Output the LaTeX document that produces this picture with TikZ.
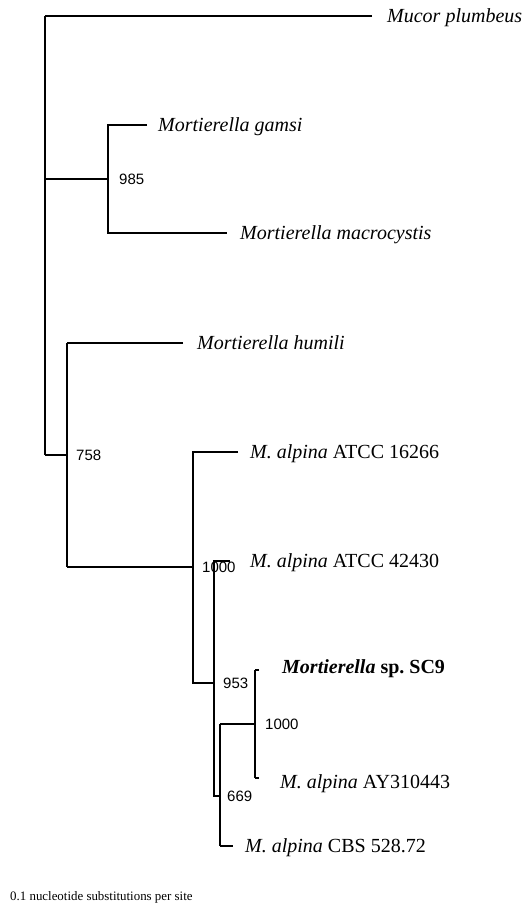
\documentclass[tikz,border=0pt]{standalone}
\usepackage{fontspec}
\setmainfont{Liberation Serif}
\newfontfamily\numfont{Liberation Sans}
\frenchspacing
\begin{document}
\begin{tikzpicture}[x=1pt,y=-1pt,
  br/.style={line width=1.1pt},
  tbr/.style={line width=1.8pt},
  mbr/.style={line width=1.4pt},
  lab/.style={anchor=base west, inner sep=0pt, font=\fontsize{20}{24}\selectfont},
  bs/.style={anchor=west, inner sep=0pt, font=\numfont\fontsize{15}{18}\selectfont}]
\useasboundingbox (0,0) rectangle (528,907);
% internal nodes (join points)
\coordinate (R) at (45,179);
\coordinate (n985) at (108,179);
\coordinate (n758) at (67,455);
\coordinate (n1000a) at (193,567);
\coordinate (n953) at (214,683);
\coordinate (n669) at (220,796);
\coordinate (n1000b) at (255,724);
% leaf tips
\coordinate (mucorT) at (372,16);
\coordinate (gamsiT) at (147,125);
\coordinate (macroT) at (227,233);
\coordinate (humiliT) at (183,343);
\coordinate (a16266T) at (238,452);
\coordinate (a42430T) at (230,561);
\coordinate (sc9T) at (259,670);
\coordinate (ayT) at (259,778);
\coordinate (cbsT) at (233,846);
% leaf labels
\node[lab] (mucor) at (387,22.5) {\textit{Mucor plumbeus}};
\node[lab] (gamsi) at (158,131.5) {\textit{Mortierella gamsi}};
\node[lab] (macro) at (240,239.5) {\textit{Mortierella macrocystis}};
\node[lab] (humili) at (197,349.5) {\textit{Mortierella humili}};
\node[lab] (a16266) at (250,458.5) {\textit{M. alpina} ATCC 16266};
\node[lab] (a42430) at (250,567.5) {\textit{M. alpina} ATCC 42430};
\node[lab] (sc9) at (282,673.5) {\textbf{\textit{Mortierella} sp.\ SC9}};
\node[lab] (ay) at (280,788) {\textit{M. alpina} AY310443};
\node[lab] (cbs) at (245,852.5) {\textit{M. alpina} CBS 528.72};
% branches
\draw[br] (mucorT) -- (R |- mucorT);
\draw[tbr] (R |- mucorT) -- (R |- n758);
\draw[br] (R) -- (n985);
\draw[br] (gamsiT) -| (n985) |- (macroT);
\draw[tbr] (R |- n758) -- (n758);
\draw[br] (humiliT) -- (n758 |- humiliT);
\draw[tbr] (n758 |- humiliT) -- (n758 |- n1000a);
\draw[mbr] (n758 |- n1000a) -- (n1000a);
\draw[br] (a16266T) -| (n1000a);
\draw[mbr] (n1000a |- a16266T) -- (n1000a |- n953) -- (n953);
\draw[br] (a42430T) -| (n953) |- (n669);
\draw[br] (n669 |- n1000b) -- (n1000b);
\draw[tbr] (n669 |- n1000b) -- (n669 |- cbsT);
\draw[br] (n669 |- cbsT) -- (cbsT);
\draw[br] (sc9T) -- (n1000b |- sc9T);
\draw[br] (ayT) -- (n1000b |- ayT);
\draw[tbr] (n1000b |- sc9T) -- (n1000b |- ayT);
% bootstrap values
\node[bs] (b985) at (119,179) {985};
\node[bs] (b758) at (76,455) {758};
\node[bs] (b1000a) at (202,567) {1000};
\node[bs] (b953) at (223,683) {953};
\node[bs] (b669) at (227,796) {669};
\node[bs] (b1000b) at (265,724) {1000};
% scale text
\node[anchor=base west, inner sep=0pt, font=\fontsize{12.9}{15}\selectfont] (scale) at (10,900.5) {0.1 nucleotide substitutions per site};
\end{tikzpicture}
\end{document}
